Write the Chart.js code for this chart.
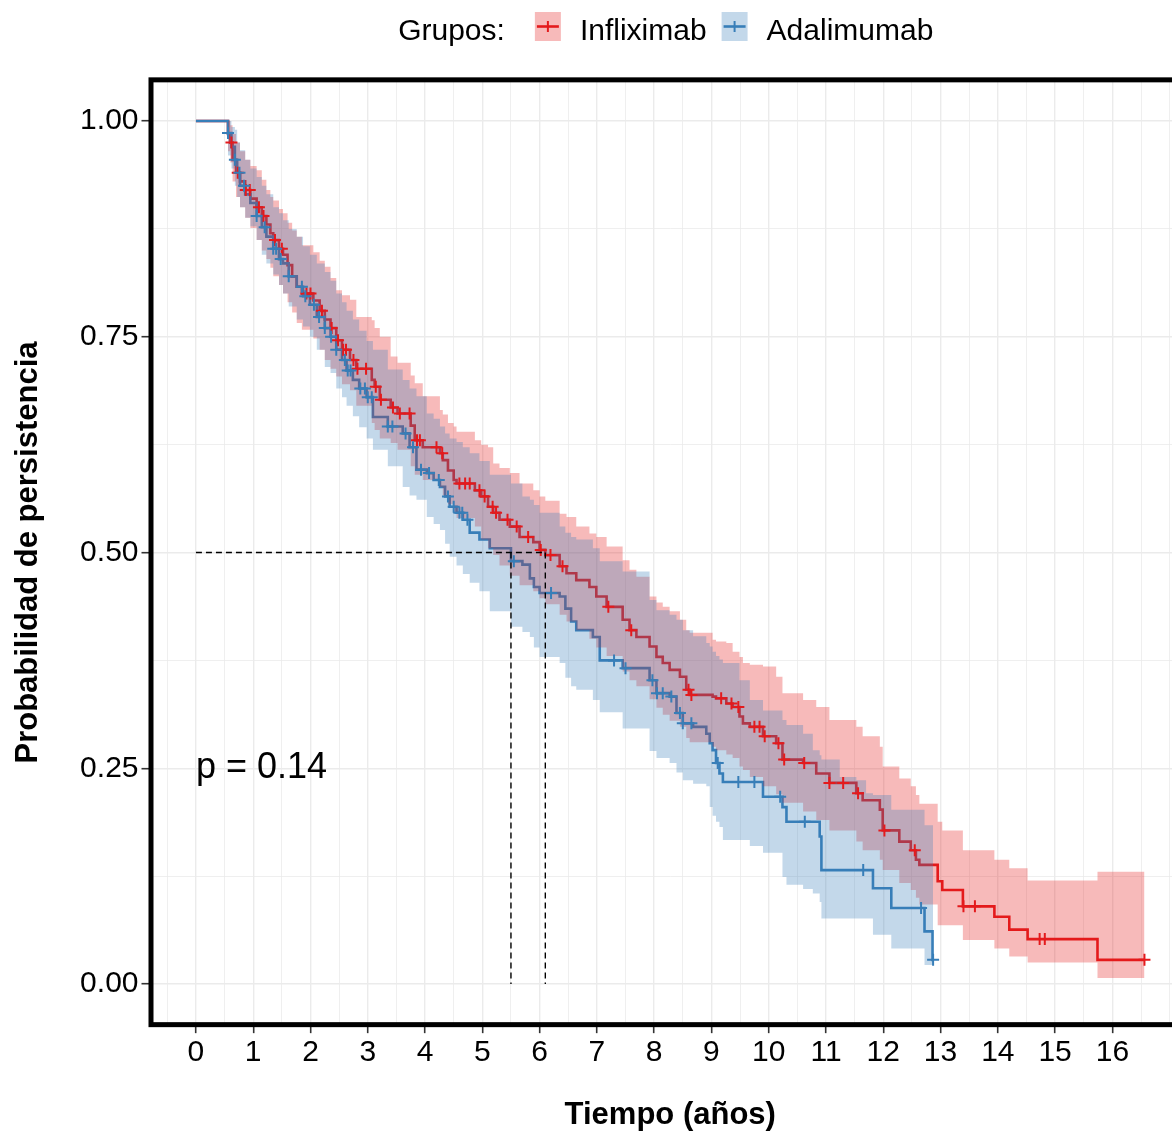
<!DOCTYPE html>
<html>
<head>
<meta charset="utf-8">
<script src="https://cdn.jsdelivr.net/npm/chart.js@4.4.1/dist/chart.umd.min.js"></script>
<style>
  html, body { margin: 0; padding: 0; background: #ffffff; overflow: hidden; width: 1172px; height: 1135px; }
  #wrap { position: absolute; left: 0; top: 0; width: 1200px; height: 1135px; }
</style>
</head>
<body>
<div id="wrap"><canvas id="c" width="1200" height="1135"></canvas></div>
<script>
// ---------------- DATA ----------------
const seriesNames = ['Infliximab', 'Adalimumab'];
const legendTitle = 'Grupos:';
const xTitle = 'Tiempo (años)';
const yTitle = 'Probabilidad de persistencia';
const pValueText = 'p = 0.14';
const pValuePos = [0, 0.25];

const xTickValues = [0,1,2,3,4,5,6,7,8,9,10,11,12,13,14,15,16];
const xTickLabels = ['0','1','2','3','4','5','6','7','8','9','10','11','12','13','14','15','16'];
const xMinorValues = [-0.5,0.5,1.5,2.5,3.5,4.5,5.5,6.5,7.5,8.5,9.5,10.5,11.5,12.5,13.5,14.5,15.5,16.5,17];
const yTickValues = [0, 0.25, 0.5, 0.75, 1];
const yTickLabels = ['0.00','0.25','0.50','0.75','1.00'];
const yMinorValues = [0.125, 0.375, 0.625, 0.875];

// Infliximab (red): step times, survival, CI upper, CI lower
const redTime = [0,0.56,0.60,0.64,0.70,0.77,0.86,0.95,1.06,1.15,
  1.23,1.30,1.35,1.45,1.52,1.60,1.68,1.76,1.85,2.05,
  2.16,2.25,2.35,2.45,2.55,2.69,2.80,3.07,3.12,3.21,
  3.40,3.52,3.75,3.82,3.96,4.26,4.31,4.40,4.50,4.55,
  4.87,4.98,5.10,5.19,5.30,5.48,5.65,5.89,6.00,6.10,
  6.35,6.47,6.64,6.87,6.99,7.17,7.45,7.57,7.69,7.92,
  8.04,8.15,8.27,8.45,8.56,8.62,9.02,9.08,9.26,9.37,
  9.49,9.55,9.67,9.90,10.13,10.24,10.60,10.83,11.06,11.53,
  11.64,11.94,11.99,12.28,12.48,12.57,12.63,12.95,13.03,13.39,
  13.94,14.20,14.52,15.74,16.56];
const redSurv = [1,0.985,0.975,0.955,0.940,0.930,0.920,0.910,0.900,0.890,
  0.880,0.870,0.862,0.852,0.845,0.833,0.820,0.808,0.800,0.792,
  0.780,0.770,0.760,0.746,0.735,0.723,0.713,0.700,0.692,0.677,
  0.668,0.661,0.647,0.630,0.622,0.615,0.607,0.595,0.584,0.580,
  0.572,0.565,0.553,0.546,0.538,0.530,0.518,0.512,0.503,0.497,
  0.484,0.476,0.468,0.460,0.449,0.437,0.422,0.410,0.402,0.391,
  0.379,0.372,0.364,0.356,0.341,0.335,0.333,0.331,0.325,0.321,
  0.310,0.302,0.298,0.287,0.279,0.260,0.256,0.244,0.233,0.221,
  0.213,0.202,0.178,0.165,0.155,0.144,0.138,0.119,0.109,0.090,
  0.078,0.063,0.052,0.028,0.028];
const redUpper = [1,1.000,0.995,0.985,0.975,0.965,0.955,0.948,0.943,0.932,
  0.920,0.912,0.908,0.898,0.893,0.882,0.873,0.866,0.856,0.848,
  0.838,0.831,0.818,0.804,0.798,0.793,0.773,0.769,0.760,0.750,
  0.727,0.720,0.705,0.696,0.681,0.665,0.660,0.650,0.646,0.640,
  0.630,0.625,0.622,0.603,0.598,0.592,0.580,0.572,0.565,0.560,
  0.545,0.541,0.530,0.522,0.518,0.507,0.491,0.480,0.472,0.449,
  0.442,0.437,0.432,0.422,0.410,0.407,0.399,0.397,0.395,0.385,
  0.379,0.372,0.370,0.368,0.356,0.337,0.329,0.321,0.306,0.298,
  0.287,0.275,0.252,0.238,0.229,0.219,0.209,0.188,0.178,0.155,
  0.144,0.134,0.120,0.130,0.130];
const redLower = [1,0.965,0.952,0.930,0.912,0.900,0.888,0.876,0.862,0.850,
  0.840,0.830,0.820,0.810,0.800,0.790,0.778,0.766,0.758,0.748,
  0.735,0.723,0.713,0.704,0.695,0.688,0.670,0.650,0.642,0.632,
  0.627,0.619,0.600,0.590,0.584,0.576,0.566,0.556,0.546,0.540,
  0.530,0.515,0.505,0.497,0.485,0.473,0.462,0.455,0.447,0.440,
  0.428,0.420,0.410,0.400,0.390,0.380,0.362,0.352,0.345,0.330,
  0.320,0.312,0.305,0.298,0.285,0.280,0.275,0.271,0.266,0.262,
  0.252,0.248,0.240,0.229,0.220,0.210,0.200,0.190,0.178,0.165,
  0.155,0.144,0.132,0.117,0.109,0.100,0.092,0.068,0.068,0.051,
  0.041,0.032,0.025,0.007,0.007];
const redCensor = [0.62,0.73,0.87,0.94,1.10,1.18,1.38,1.50,1.93,2.00,
  2.20,2.37,2.48,2.57,2.62,2.75,2.82,2.97,3.14,3.23,
  3.44,3.56,3.73,3.86,3.91,4.20,4.30,4.60,4.70,4.78,
  4.95,5.04,5.18,5.24,5.44,5.60,5.80,6.02,6.19,6.40,
  7.20,7.60,8.60,8.65,9.17,9.35,9.47,9.75,9.84,9.93,
  10.17,10.27,10.62,11.06,11.30,11.56,12.02,12.55,13.40,13.60,
  14.73,14.82,16.56];

// Adalimumab (blue)
const blueTime = [0,0.56,0.62,0.68,0.72,0.77,0.86,0.95,1.06,1.15,
  1.23,1.35,1.45,1.52,1.62,1.76,1.87,1.99,2.11,2.25,
  2.35,2.45,2.55,2.63,2.74,2.85,2.98,3.09,3.35,3.61,
  3.73,3.85,4.03,4.15,4.26,4.35,4.43,4.55,4.66,4.78,
  4.95,5.13,5.50,5.70,5.83,5.90,6.00,6.35,6.45,6.55,
  6.64,6.93,7.05,7.45,7.92,8.04,8.27,8.39,8.50,8.68,
  8.91,8.97,9.02,9.08,9.14,9.20,9.49,9.67,9.90,10.24,
  10.31,10.60,10.77,10.89,10.92,11.24,11.53,11.70,11.82,12.14,
  12.72,12.86,12.87];
const blueSurv = [1,0.986,0.970,0.955,0.940,0.925,0.915,0.905,0.890,0.877,
  0.866,0.852,0.840,0.835,0.820,0.808,0.797,0.787,0.773,0.760,
  0.750,0.735,0.723,0.711,0.700,0.690,0.680,0.657,0.646,0.638,
  0.622,0.596,0.592,0.584,0.576,0.565,0.553,0.546,0.538,0.523,
  0.515,0.505,0.490,0.486,0.470,0.460,0.453,0.449,0.435,0.420,
  0.410,0.402,0.375,0.366,0.352,0.337,0.333,0.314,0.302,0.298,
  0.290,0.279,0.271,0.256,0.244,0.234,0.234,0.234,0.217,0.205,
  0.188,0.188,0.188,0.171,0.132,0.132,0.132,0.132,0.111,0.088,
  0.061,0.028,0.028];
const blueUpper = [1,1.000,0.993,0.990,0.975,0.966,0.955,0.945,0.935,0.925,
  0.915,0.900,0.893,0.885,0.875,0.866,0.855,0.845,0.835,0.825,
  0.815,0.800,0.790,0.780,0.770,0.757,0.745,0.735,0.712,0.700,
  0.690,0.681,0.661,0.655,0.646,0.638,0.632,0.628,0.622,0.615,
  0.606,0.590,0.580,0.565,0.561,0.555,0.546,0.530,0.523,0.518,
  0.515,0.505,0.490,0.478,0.445,0.433,0.428,0.422,0.410,0.403,
  0.395,0.391,0.385,0.380,0.376,0.372,0.352,0.329,0.317,0.306,
  0.300,0.290,0.271,0.265,0.260,0.240,0.236,0.221,0.219,0.202,
  0.184,0.184,0.184];
const blueLower = [1,0.960,0.945,0.925,0.912,0.900,0.888,0.878,0.862,0.845,
  0.835,0.822,0.810,0.800,0.785,0.770,0.762,0.750,0.735,0.715,
  0.708,0.690,0.680,0.670,0.658,0.645,0.632,0.619,0.600,0.576,
  0.566,0.561,0.541,0.533,0.526,0.510,0.495,0.485,0.475,0.465,
  0.455,0.432,0.414,0.408,0.402,0.390,0.379,0.372,0.355,0.345,
  0.341,0.329,0.315,0.296,0.270,0.262,0.256,0.245,0.236,0.232,
  0.229,0.205,0.195,0.188,0.182,0.167,0.167,0.160,0.152,0.124,
  0.115,0.110,0.105,0.095,0.076,0.076,0.076,0.076,0.057,0.041,
  0.022,0.022,0.022];
const blueCensor = [0.56,0.68,0.76,0.84,1.06,1.20,1.35,1.40,1.48,1.62,
  1.85,1.91,2.06,2.15,2.25,2.36,2.45,2.60,2.65,2.70,
  2.87,2.95,3.00,3.07,3.35,3.43,3.66,3.79,3.93,4.07,
  4.24,4.40,4.50,4.60,4.65,4.74,5.55,6.20,7.30,7.50,
  7.97,8.05,8.15,8.30,8.45,8.50,8.65,9.11,9.47,9.75,
  10.20,10.63,11.65,12.66,12.87];

// Median survival times (Infliximab, Adalimumab)
const medianTimes = [6.10, 5.50];
const medianLevel = 0.5;

// ---------------- STYLE ----------------
const RED = '#E41A1C', BLUE = '#377EB8';
const RED_FILL = 'rgba(228,26,28,0.3)', BLUE_FILL = 'rgba(55,126,184,0.3)';
const FONT = '"Liberation Sans", Arial, Helvetica, sans-serif';
Chart.defaults.font.family = FONT;
Chart.defaults.color = '#000';

function pts(times, vals) { return times.map((t, i) => ({ x: t, y: vals[i] })); }
function survAt(times, surv, t) {
  let s = surv[0];
  for (let i = 0; i < times.length; i++) { if (times[i] <= t) s = surv[i]; else break; }
  return s;
}
function censorPts(ct, times, surv) { return ct.map(t => ({ x: t, y: survAt(times, surv, t) })); }

const maxMedian = Math.max(...medianTimes);
const dashedSets = [
  [{ x: 0, y: medianLevel }, { x: maxMedian, y: medianLevel }],
  [{ x: medianTimes[0], y: medianLevel }, { x: medianTimes[0], y: 0 }],
  [{ x: medianTimes[1], y: medianLevel }, { x: medianTimes[1], y: 0 }]
].map(d => ({
  type: 'line', data: d, borderColor: '#000', borderWidth: 1.4, borderDash: [6, 4],
  pointRadius: 0, fill: false, order: 1
}));

const lineCommon = { type: 'line', pointRadius: 0, stepped: true, fill: false, tension: 0 };

const datasets = [
  Object.assign({}, lineCommon, { label: seriesNames[0], data: pts(redTime, redSurv), borderColor: RED, borderWidth: 2.6, order: 10 }),
  Object.assign({}, lineCommon, { label: seriesNames[1], data: pts(blueTime, blueSurv), borderColor: BLUE, borderWidth: 2.6, order: 9 }),
  Object.assign({}, lineCommon, { data: pts(redTime, redUpper), borderWidth: 0, borderColor: 'rgba(0,0,0,0)', backgroundColor: RED_FILL, fill: '+1', order: 8 }),
  Object.assign({}, lineCommon, { data: pts(redTime, redLower), borderWidth: 0, borderColor: 'rgba(0,0,0,0)', order: 7 }),
  Object.assign({}, lineCommon, { data: pts(blueTime, blueUpper), borderWidth: 0, borderColor: 'rgba(0,0,0,0)', backgroundColor: BLUE_FILL, fill: '+1', order: 6 }),
  Object.assign({}, lineCommon, { data: pts(blueTime, blueLower), borderWidth: 0, borderColor: 'rgba(0,0,0,0)', order: 5 }),
  { type: 'line', showLine: false, data: censorPts(redCensor, redTime, redSurv), pointStyle: 'cross', pointRadius: 6, pointBorderWidth: 2, pointBorderColor: RED, pointBackgroundColor: RED, order: 4 },
  { type: 'line', showLine: false, data: censorPts(blueCensor, blueTime, blueSurv), pointStyle: 'cross', pointRadius: 6, pointBorderWidth: 2, pointBorderColor: BLUE, pointBackgroundColor: BLUE, order: 3 }
].concat(dashedSets);

const xAll = xMinorValues.concat(xTickValues).sort((a, b) => a - b);
const yAll = yMinorValues.concat(yTickValues).sort((a, b) => a - b);

const decor = {
  id: 'decor',
  afterDraw(chart) {
    const { ctx, chartArea: a, scales: { x, y } } = chart;
    ctx.save();
    // p-value
    ctx.font = '36px ' + FONT;
    ctx.fillStyle = '#000';
    ctx.textAlign = 'left';
    ctx.textBaseline = 'middle';
    ctx.fillText(pValueText, x.getPixelForValue(pValuePos[0]), y.getPixelForValue(pValuePos[1]));
    // panel border
    ctx.strokeStyle = '#000';
    ctx.lineWidth = 5;
    ctx.strokeRect(a.left + 2.5, a.top + 2, a.right - a.left - 5, a.bottom - a.top - 4.5);
    // legend
    ctx.font = '30px ' + FONT;
    ctx.textBaseline = 'alphabetic';
    const tw = ctx.measureText(legendTitle).width;
    const w1 = ctx.measureText(seriesNames[0]).width;
    const w2 = ctx.measureText(seriesNames[1]).width;
    const total = tw + 30 + 26 + 19 + w1 + 15 + 26 + 20 + w2;
    let cx = (a.left + a.right) / 2 - 4 - total / 2;
    const base = 40;
    ctx.fillText(legendTitle, cx, base);
    cx += tw + 30;
    const keys = [[RED, RED_FILL, seriesNames[0], w1, 15], [BLUE, BLUE_FILL, seriesNames[1], w2, 0]];
    keys.forEach(([col, fillc, lab, w, gap]) => {
      ctx.fillStyle = fillc;
      ctx.fillRect(cx, 12, 26, 29);
      ctx.strokeStyle = col;
      ctx.lineWidth = 2.6;
      ctx.beginPath(); ctx.moveTo(cx + 2, 26.5); ctx.lineTo(cx + 24, 26.5); ctx.stroke();
      ctx.lineWidth = 2;
      ctx.beginPath(); ctx.moveTo(cx + 13, 21); ctx.lineTo(cx + 13, 32); ctx.stroke();
      cx += 26 + 19;
      ctx.fillStyle = '#000';
      ctx.fillText(lab, cx, base);
      cx += w + gap;
    });
    ctx.restore();
  }
};

const isMajorX = v => xTickValues.indexOf(v) >= 0;
const isMajorY = v => yTickValues.indexOf(v) >= 0;

new Chart(document.getElementById('c'), {
  type: 'line',
  data: { datasets },
  options: {
    responsive: false,
    devicePixelRatio: 1,
    animation: false,
    layout: { padding: { top: 77.85, right: 7.4, bottom: 0, left: 0 } },
    plugins: { legend: { display: false }, tooltip: { enabled: false } },
    elements: { line: { borderJoinStyle: 'miter' } },
    scales: {
      x: {
        type: 'linear', min: -0.828, max: 17.39, bounds: 'data',
        afterBuildTicks: s => { s.ticks = xAll.map(v => ({ value: v })); },
        afterFit: s => { s.height = 107.85; },
        ticks: {
          autoSkip: false, maxRotation: 0, minRotation: 0, padding: 2, color: '#000',
          font: { size: 30 },
          callback: v => { const i = xTickValues.indexOf(v); return i >= 0 ? xTickLabels[i] : ''; }
        },
        grid: {
          color: '#EBEBEB',
          lineWidth: c => (c.tick && isMajorX(c.tick.value)) ? 1.4 : 0.8,
          tickLength: 6,
          tickColor: c => (c.tick && isMajorX(c.tick.value)) ? '#333333' : 'rgba(0,0,0,0)',
          tickWidth: 1.6
        },
        border: { display: false },
        title: { display: true, text: xTitle, color: '#000', font: { size: 31, weight: 'bold' }, padding: { top: 0, bottom: 1 } }
      },
      y: {
        type: 'linear', min: -0.05, max: 1.05, bounds: 'data',
        afterBuildTicks: s => { s.ticks = yAll.map(v => ({ value: v })); },
        afterFit: s => { s.width = 148.5; },
        ticks: {
          autoSkip: false, padding: 3, color: '#000',
          font: { size: 30 },
          callback: v => { const i = yTickValues.indexOf(v); return i >= 0 ? yTickLabels[i] : ''; }
        },
        grid: {
          color: '#EBEBEB',
          lineWidth: c => (c.tick && isMajorY(c.tick.value)) ? 1.4 : 0.8,
          tickLength: 7,
          tickColor: c => (c.tick && isMajorY(c.tick.value)) ? '#333333' : 'rgba(0,0,0,0)',
          tickWidth: 1.6
        },
        border: { display: false },
        title: { display: true, text: yTitle, color: '#000', font: { size: 31, weight: 'bold' }, padding: { top: 10, bottom: 0 } }
      }
    }
  },
  plugins: [decor]
});
</script>
</body>
</html>
